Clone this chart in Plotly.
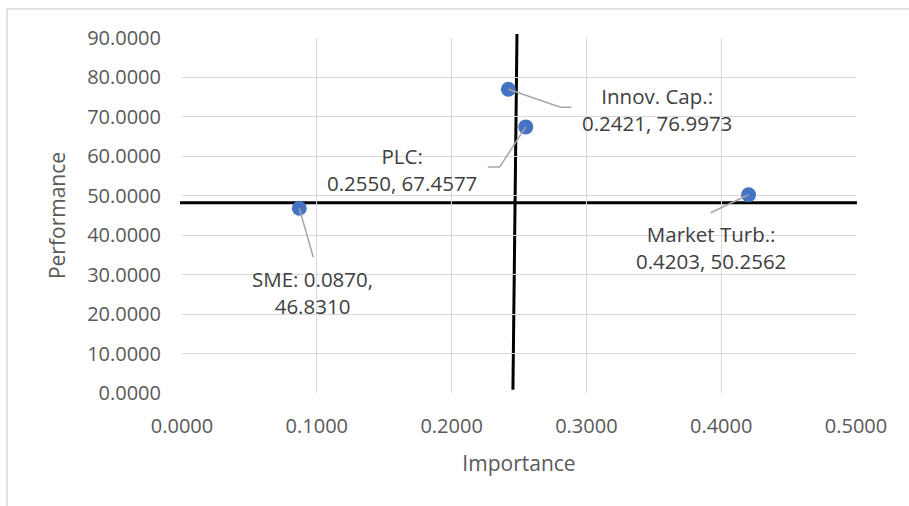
import plotly.graph_objects as go

# Importance-performance data
factors = ["Innov. Cap.", "PLC", "SME", "Market Turb."]
importance = [0.2421, 0.2550, 0.0870, 0.4203]
performance = [76.9973, 67.4577, 46.8310, 50.2562]

# Quadrant divider lines (importance / performance split)
split_x = [0.2485, 0.2455]      # top, bottom of the vertical divider
split_x_span = [91.0, 0.8]      # performance values at its ends
split_y = 48.25
split_y_span = [-0.0015, 0.5007]

# Axis settings
x_range = [0, 0.5]
y_range = [0, 90]
x_step = 0.1
y_step = 10

# Figure geometry
W, H = 909, 506
M = dict(l=182, r=53, t=38, b=113)
PW = W - M["l"] - M["r"]
PH = H - M["t"] - M["b"]

# Label placement: label centre offset and leader-line bends, in pixels
label_text = [
    "Innov. Cap.:<br>{:.4f}, {:.4f}",
    "PLC:<br>{:.4f}, {:.4f}",
    "SME: {:.4f},<br>{:.4f}",
    "Market Turb.:<br>{:.4f}, {:.4f}",
]
label_offset = [(149, 20), (-124, 43), (13, 84), (-38, 53)]
leader_bends = [
    [(52, 18), (63, 18)],
    [(-26, 40), (-38, 40)],
    [(14, 49)],
    [(-38, 18)],
]

TXT = "#404040"
AX = "#595959"
GRID = "#d9d9d9"
FONT = "Open Sans"


def px_x(v):
    return (v - x_range[0]) / (x_range[1] - x_range[0]) * PW


def px_y(v):
    return (v - y_range[0]) / (y_range[1] - y_range[0]) * PH


def to_paper(px, py):
    return px / PW, py / PH


fig = go.Figure()
fig.add_trace(go.Scatter(
    x=importance, y=performance, mode="markers",
    marker=dict(size=15, color="#4472C4", line=dict(width=0)),
    hoverinfo="skip", showlegend=False,
))

shapes = []
# outer chart border
shapes.append(dict(type="rect", xref="paper", yref="paper",
                   x0=(7 - M["l"]) / PW, x1=2.0,
                   y0=-1.0, y1=(H - 9 - M["b"]) / PH,
                   line=dict(color=GRID, width=1.5), fillcolor="rgba(0,0,0,0)",
                   layer="below"))

# quadrant dividers
xa, ya = to_paper(px_x(split_x[0]), px_y(split_x_span[0]))
xb, yb = to_paper(px_x(split_x[1]), px_y(split_x_span[1]))
shapes.append(dict(type="line", xref="paper", yref="paper",
                   x0=xa, y0=ya, x1=xb, y1=yb,
                   line=dict(color="black", width=3), layer="between"))
xa, ya = to_paper(px_x(split_y_span[0]), px_y(split_y))
xb, yb = to_paper(px_x(split_y_span[1]), px_y(split_y))
shapes.append(dict(type="line", xref="paper", yref="paper",
                   x0=xa, y0=ya, x1=xb, y1=yb,
                   line=dict(color="black", width=3), layer="between"))

annotations = []
for name, xv, yv, tmpl, off, bends in zip(factors, importance, performance,
                                           label_text, label_offset, leader_bends):
    px0, py0 = px_x(xv), px_y(yv)
    pts = [(px0, py0)] + [(px0 + dx, py0 - dy) for dx, dy in bends]
    path = ""
    for i, (a, b) in enumerate(pts):
        pa, pb = to_paper(a, b)
        path += ("M" if i == 0 else "L") + f"{pa:.5f},{pb:.5f}"
    shapes.append(dict(type="path", xref="paper", yref="paper", path=path,
                       line=dict(color="#a6a6a6", width=1.5), layer="above"))
    annotations.append(dict(
        x=xv, y=yv, xref="x", yref="y", showarrow=False,
        text=tmpl.format(xv, yv), xshift=off[0], yshift=-off[1],
        xanchor="center", yanchor="middle", align="center",
        font=dict(family=FONT, size=20.5, color=TXT),
    ))

axis_common = dict(
    showgrid=True, gridcolor=GRID, gridwidth=1.3,
    showline=False, zeroline=False, ticks="",
    tickformat=".4f", tickfont=dict(family=FONT, size=20, color=AX),
)

fig.update_layout(
    width=W, height=H, margin=M,
    paper_bgcolor="white", plot_bgcolor="white",
    xaxis=dict(range=x_range, dtick=x_step, tick0=0,
               title=dict(text="Importance", standoff=18,
                          font=dict(family=FONT, size=21, color=AX)),
               ticklabelstandoff=19, **axis_common),
    yaxis=dict(range=y_range, dtick=y_step, tick0=0,
               title=dict(text="Performance", standoff=15,
                          font=dict(family=FONT, size=21, color=AX)),
               ticklabelstandoff=20, **axis_common),
    shapes=shapes, annotations=annotations,
)

fig.write_html("out.html")
